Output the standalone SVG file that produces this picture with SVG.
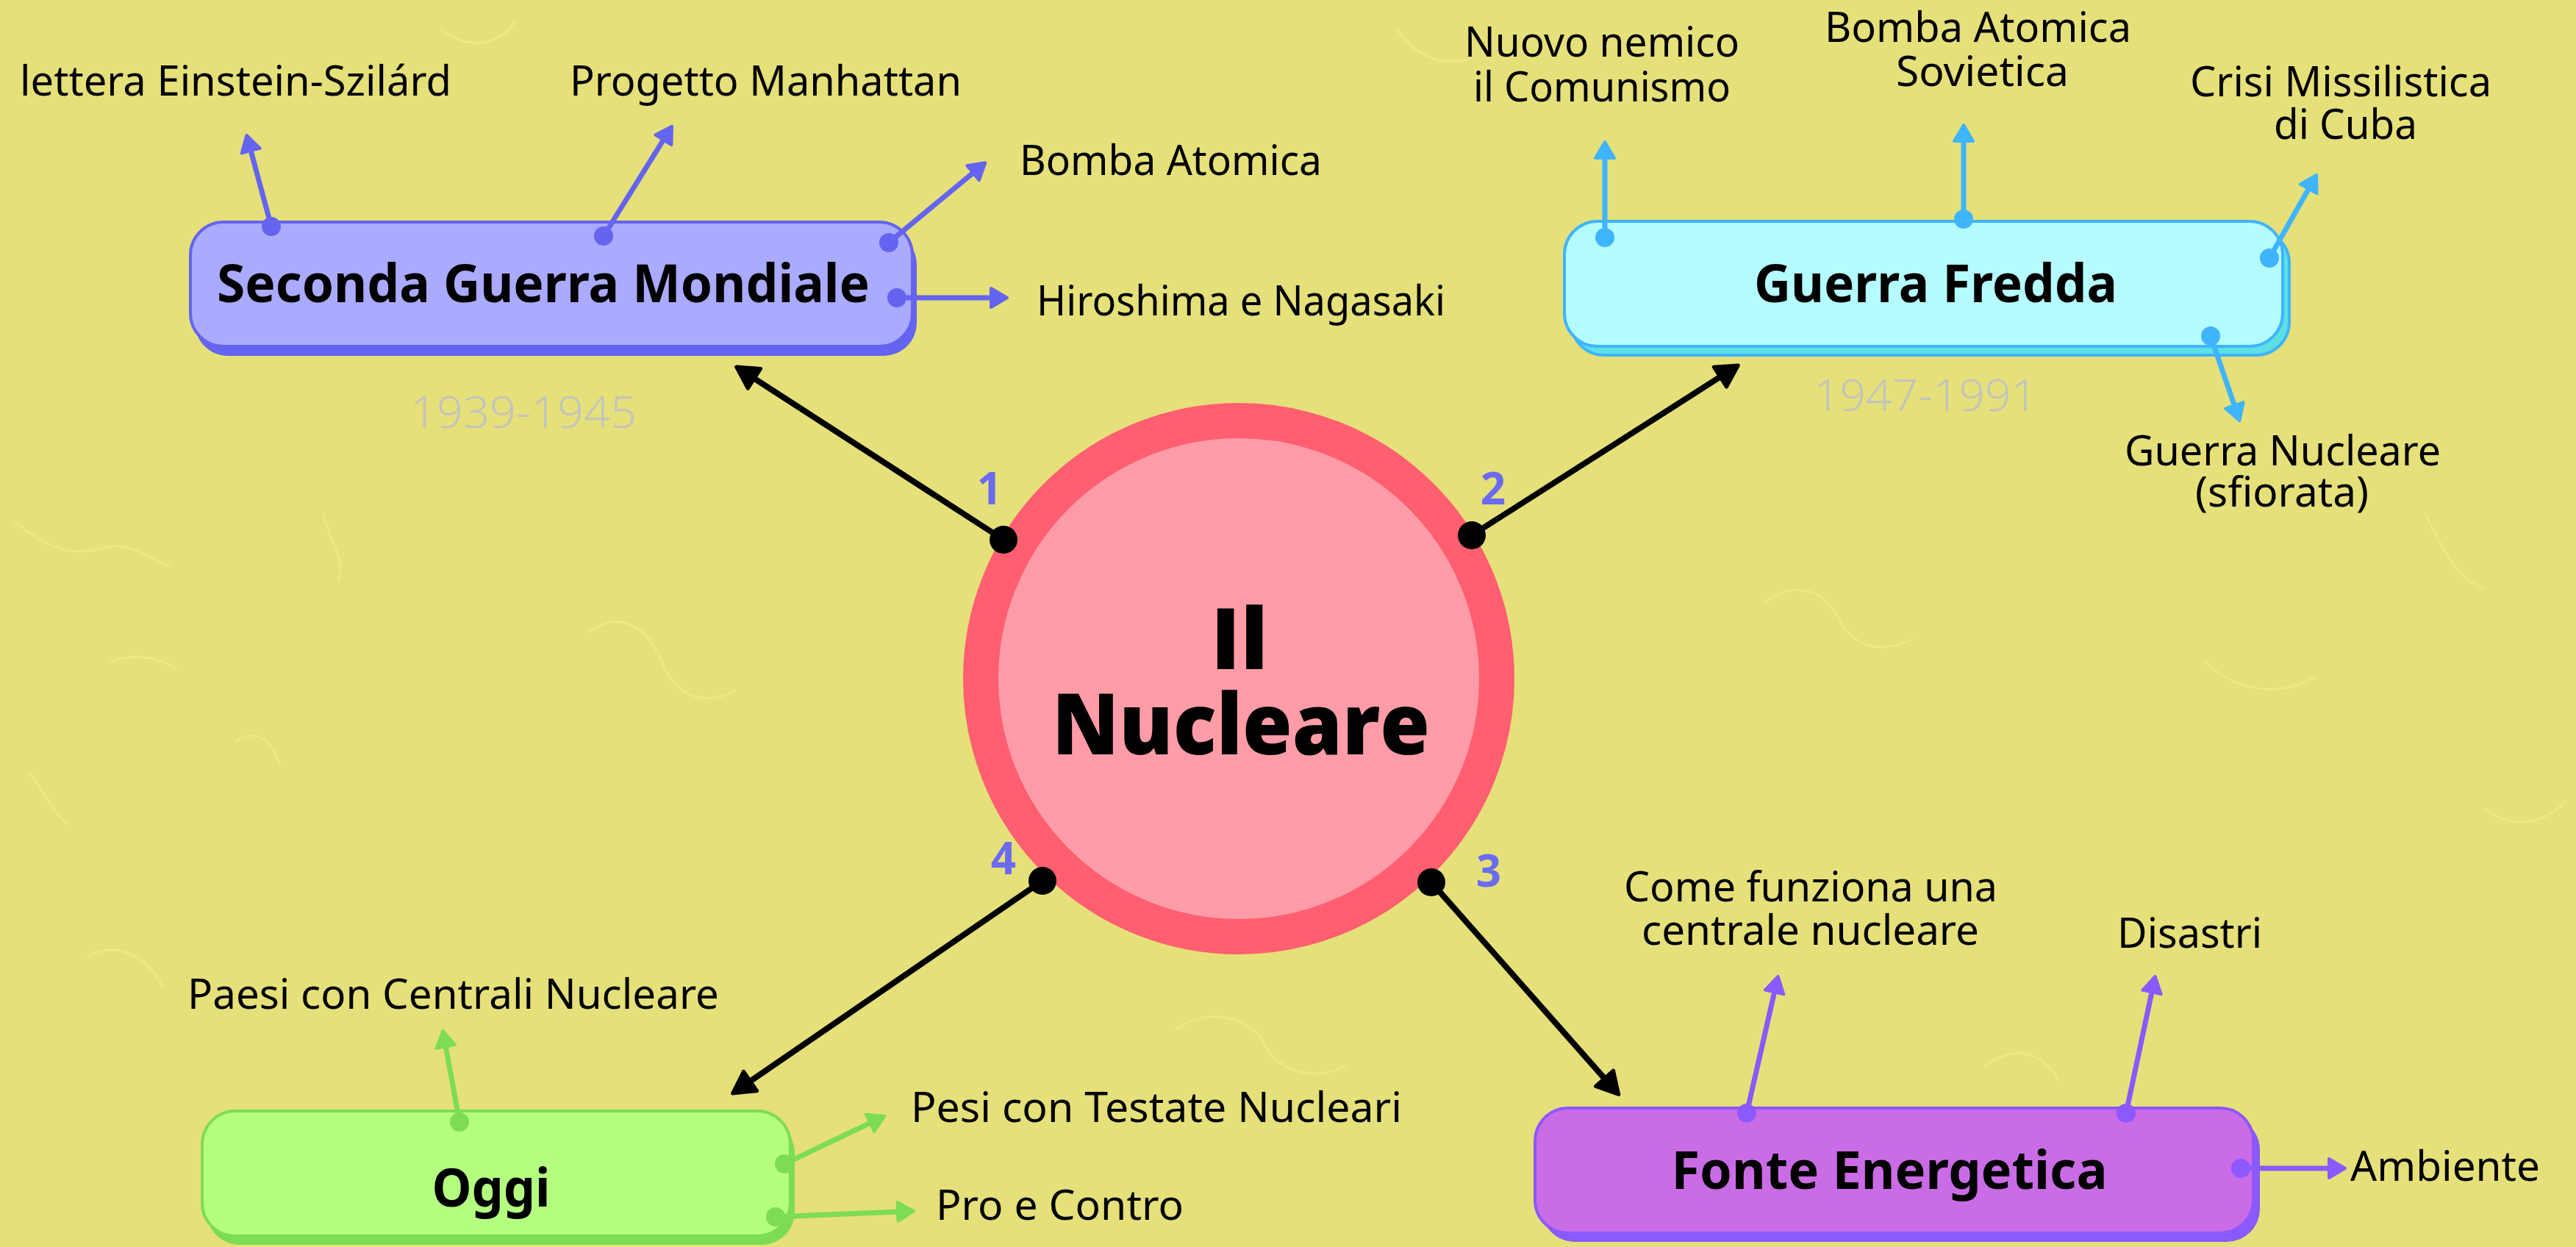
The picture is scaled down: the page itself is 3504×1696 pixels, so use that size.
<svg xmlns="http://www.w3.org/2000/svg" width="3504" height="1696" viewBox="0 0 3504 1696">
<style>
.lbl{font-family:"Noto Sans","Open Sans","DejaVu Sans",sans-serif;font-size:56px;fill:#000}
.node{font-family:"Noto Sans","Open Sans","DejaVu Sans",sans-serif;font-weight:bold;font-size:72px;fill:#000}
.year{font-family:"Noto Sans","Open Sans",sans-serif;font-weight:300;font-size:60px;fill:#c4c4bc}
.num{font-family:"Open Sans","Noto Sans",sans-serif;font-weight:bold;font-size:60px;fill:#6b6bf2}
.title{font-family:"Open Sans","Noto Sans",sans-serif;font-weight:800;font-size:116px;fill:#000}
.tex{fill:none;stroke:#f3ef92;stroke-width:3;opacity:0.55;stroke-linecap:round}
.c1{stroke:#6464f0;stroke-width:7;fill:none}
.c2{stroke:#3fb4ff;stroke-width:7;fill:none}
.c3{stroke:#7ddc55;stroke-width:7;fill:none}
.c4{stroke:#8c58ff;stroke-width:7;fill:none}
.cb{stroke:#000;stroke-width:8;fill:none}
</style>
<defs>
<marker id="m1" markerUnits="userSpaceOnUse" markerWidth="40" markerHeight="40" refX="4" refY="15" orient="auto"><path d="M2,2 L24,15 L2,28 Z" fill="#6464f0" stroke="#6464f0" stroke-width="4" stroke-linejoin="round"/></marker>
<marker id="m2" markerUnits="userSpaceOnUse" markerWidth="40" markerHeight="40" refX="4" refY="15" orient="auto"><path d="M2,2 L24,15 L2,28 Z" fill="#3fb4ff" stroke="#3fb4ff" stroke-width="4" stroke-linejoin="round"/></marker>
<marker id="m3" markerUnits="userSpaceOnUse" markerWidth="40" markerHeight="40" refX="4" refY="15" orient="auto"><path d="M2,2 L24,15 L2,28 Z" fill="#7ddc55" stroke="#7ddc55" stroke-width="4" stroke-linejoin="round"/></marker>
<marker id="m4" markerUnits="userSpaceOnUse" markerWidth="40" markerHeight="40" refX="4" refY="15" orient="auto"><path d="M2,2 L24,15 L2,28 Z" fill="#8c58ff" stroke="#8c58ff" stroke-width="4" stroke-linejoin="round"/></marker>
<marker id="mb" markerUnits="userSpaceOnUse" markerWidth="50" markerHeight="50" refX="6" refY="19" orient="auto"><path d="M3,3 L32,19 L3,35 Z" fill="#000" stroke="#000" stroke-width="5" stroke-linejoin="round"/></marker>
</defs>
<rect width="3504" height="1696" fill="#e5e07a"/>
<g id="texture">
<path class="tex" d="M20,710 C60,740 90,760 140,745 C180,735 200,760 230,770"/>
<path class="tex" d="M440,700 C450,740 470,760 460,790"/>
<path class="tex" d="M320,1010 C340,990 370,1000 380,1040"/>
<path class="tex" d="M40,1050 C60,1080 70,1100 90,1120"/>
<path class="tex" d="M150,900 C180,890 210,890 240,910"/>
<path class="tex" d="M800,860 C840,830 880,850 900,900 C920,950 960,960 1000,940"/>
<path class="tex" d="M2400,820 C2440,790 2480,800 2500,840 C2520,880 2560,890 2600,870"/>
<path class="tex" d="M3000,900 C3040,940 3100,950 3150,920"/>
<path class="tex" d="M3300,700 C3320,740 3340,790 3380,800"/>
<path class="tex" d="M1900,40 C1930,80 1960,90 2000,80"/>
<path class="tex" d="M600,40 C640,70 680,60 700,30"/>
<path class="tex" d="M3380,1100 C3420,1130 3460,1120 3490,1090"/>
<path class="tex" d="M1600,1400 C1640,1370 1700,1380 1720,1420 C1740,1460 1790,1470 1830,1450"/>
<path class="tex" d="M2700,1450 C2740,1420 2780,1430 2800,1470"/>
<path class="tex" d="M120,1300 C160,1280 200,1300 220,1340"/>
</g>
<g id="connectors">
<g id="conn-main">
<line class="cb" x1="1365" y1="734" x2="1023.5" y2="513.2" marker-end="url(#mb)"/>
<line class="cb" x1="2002" y1="728" x2="2342.4" y2="511" marker-end="url(#mb)"/>
<line class="cb" x1="1947" y1="1200" x2="2184.5" y2="1469" marker-end="url(#mb)"/>
<line class="cb" x1="1418" y1="1198" x2="1018.1" y2="1472.2" marker-end="url(#mb)"/>
</g>
</g>
<g id="n-seconda">
<rect x="265" y="315" width="982" height="169" rx="45" fill="#6464f0"/>
<rect x="259" y="302" width="982" height="169" rx="45" fill="#aaaafe" stroke="#6464f0" stroke-width="4"/>
<text class="node" x="739" y="411" text-anchor="middle" textLength="888" lengthAdjust="spacingAndGlyphs">Seconda Guerra Mondiale</text>
</g>
<text class="year" x="558" y="582" textLength="308" lengthAdjust="spacingAndGlyphs">1939-1945</text>
<g id="n-fredda">
<rect x="2137" y="313" width="977" height="170" rx="45" fill="#5ce0e4" stroke="#3fb4ff" stroke-width="4"/>
<rect x="2128" y="301" width="977" height="170" rx="45" fill="#b4fcff" stroke="#3fb4ff" stroke-width="4"/>
<text class="node" x="2633" y="411" text-anchor="middle" textLength="494" lengthAdjust="spacingAndGlyphs">Guerra Fredda</text>
</g>
<text class="year" x="2467" y="559" textLength="304" lengthAdjust="spacingAndGlyphs">1947-1991</text>
<g id="n-oggi">
<rect x="281" y="1523" width="800" height="170" rx="45" fill="#7ddc55"/>
<rect x="275" y="1511" width="800" height="170" rx="45" fill="#b4fe80" stroke="#7ddc55" stroke-width="4"/>
<text class="node" x="668" y="1641" text-anchor="middle" textLength="161" lengthAdjust="spacingAndGlyphs">Oggi</text>
</g>
<g id="n-fonte">
<rect x="2097" y="1519" width="977" height="170" rx="45" fill="#8c58ff"/>
<rect x="2088" y="1507" width="977" height="170" rx="45" fill="#ca6ce6" stroke="#8c58ff" stroke-width="4"/>
<text class="node" x="2570" y="1617" text-anchor="middle" textLength="593" lengthAdjust="spacingAndGlyphs">Fonte Energetica</text>
</g>
<g id="n-center">
<circle cx="1685" cy="923" r="351" fill="#ff9ca7" stroke="#ff5f70" stroke-width="48"/>
<text class="title" text-anchor="middle"><tspan x="1686" y="910">Il</tspan><tspan x="1688" y="1026" textLength="514" lengthAdjust="spacingAndGlyphs">Nucleare</tspan></text>
</g>
<g id="connector-dots">
<circle cx="1365" cy="734" r="19" fill="#000"/>
<circle cx="2002" cy="728" r="19" fill="#000"/>
<circle cx="1947" cy="1200" r="19" fill="#000"/>
<circle cx="1418" cy="1198" r="19" fill="#000"/>
</g>
<g id="conn-sub">
<line class="c1" x1="369" y1="308" x2="340.7" y2="203.2" marker-end="url(#m1)"/>
<line class="c1" x1="821" y1="321" x2="903.4" y2="188.7" marker-end="url(#m1)"/>
<line class="c1" x1="1209" y1="330" x2="1325" y2="234" marker-end="url(#m1)"/>
<line class="c1" x1="1220" y1="405" x2="1350" y2="405" marker-end="url(#m1)"/>
<circle cx="369" cy="308" r="13" fill="#6464f0"/>
<circle cx="821" cy="321" r="13" fill="#6464f0"/>
<circle cx="1209" cy="330" r="13" fill="#6464f0"/>
<circle cx="1220" cy="405" r="13" fill="#6464f0"/>
<line class="c2" x1="2183" y1="323" x2="2183" y2="213" marker-end="url(#m2)"/>
<line class="c2" x1="2671" y1="298" x2="2671" y2="190" marker-end="url(#m2)"/>
<line class="c2" x1="3087" y1="351" x2="3141.2" y2="255.2" marker-end="url(#m2)"/>
<line class="c2" x1="3007" y1="457" x2="3039.9" y2="553.2" marker-end="url(#m2)"/>
<circle cx="2183" cy="323" r="13" fill="#3fb4ff"/>
<circle cx="2671" cy="298" r="13" fill="#3fb4ff"/>
<circle cx="3087" cy="351" r="13" fill="#3fb4ff"/>
<circle cx="3007" cy="457" r="13" fill="#3fb4ff"/>
<line class="c3" x1="625" y1="1526" x2="606" y2="1421.6" marker-end="url(#m3)"/>
<line class="c3" x1="1067" y1="1583" x2="1185.2" y2="1526.5" marker-end="url(#m3)"/>
<line class="c3" x1="1055" y1="1655" x2="1223" y2="1647.9" marker-end="url(#m3)"/>
<circle cx="625" cy="1526" r="13" fill="#7ddc55"/>
<circle cx="1067" cy="1583" r="13" fill="#7ddc55"/>
<circle cx="1055" cy="1655" r="13" fill="#7ddc55"/>
<line class="c4" x1="2376" y1="1514" x2="2414.1" y2="1347.4" marker-end="url(#m4)"/>
<line class="c4" x1="2892" y1="1514" x2="2927.4" y2="1347.5" marker-end="url(#m4)"/>
<line class="c4" x1="3048" y1="1589" x2="3170" y2="1589" marker-end="url(#m4)"/>
<circle cx="2376" cy="1514" r="13" fill="#8c58ff"/>
<circle cx="2892" cy="1514" r="13" fill="#8c58ff"/>
<circle cx="3048" cy="1589" r="13" fill="#8c58ff"/>
</g>
<g id="numbers">
<text class="num" x="1346" y="686" text-anchor="middle">1</text>
<text class="num" x="2031" y="686" text-anchor="middle">2</text>
<text class="num" x="2025" y="1206" text-anchor="middle">3</text>
<text class="num" x="1365" y="1189" text-anchor="middle">4</text>
</g>
<g id="l-einstein"><text class="lbl" x="27" y="130" textLength="587" lengthAdjust="spacingAndGlyphs">lettera Einstein-Szilárd</text></g>
<g id="l-manhattan"><text class="lbl" x="775" y="130" textLength="533" lengthAdjust="spacingAndGlyphs">Progetto Manhattan</text></g>
<g id="l-bomba"><text class="lbl" x="1387" y="238" textLength="411" lengthAdjust="spacingAndGlyphs">Bomba Atomica</text></g>
<g id="l-hiroshima"><text class="lbl" x="1410" y="429" textLength="556" lengthAdjust="spacingAndGlyphs">Hiroshima e Nagasaki</text></g>
<g id="l-nemico"><text class="lbl"><tspan x="1992" y="77" textLength="374" lengthAdjust="spacingAndGlyphs">Nuovo nemico</tspan><tspan x="2004" y="138" textLength="350" lengthAdjust="spacingAndGlyphs">il Comunismo</tspan></text></g>
<g id="l-sovietica"><text class="lbl"><tspan x="2482" y="57" textLength="417" lengthAdjust="spacingAndGlyphs">Bomba Atomica</tspan><tspan x="2579" y="117" textLength="235" lengthAdjust="spacingAndGlyphs">Sovietica</tspan></text></g>
<g id="l-cuba"><text class="lbl"><tspan x="2979" y="131" textLength="410" lengthAdjust="spacingAndGlyphs">Crisi Missilistica</tspan><tspan x="3093" y="189" textLength="195" lengthAdjust="spacingAndGlyphs">di Cuba</tspan></text></g>
<g id="l-guerranucl"><text class="lbl"><tspan x="2890" y="633" textLength="430" lengthAdjust="spacingAndGlyphs">Guerra Nucleare</tspan><tspan x="2986" y="689" textLength="236" lengthAdjust="spacingAndGlyphs">(sfiorata)</tspan></text></g>
<g id="l-paesi"><text class="lbl" x="255" y="1372" textLength="723" lengthAdjust="spacingAndGlyphs">Paesi con Centrali Nucleare</text></g>
<g id="l-pesi"><text class="lbl" x="1239" y="1526" textLength="668" lengthAdjust="spacingAndGlyphs">Pesi con Testate Nucleari</text></g>
<g id="l-pro"><text class="lbl" x="1273" y="1659" textLength="337" lengthAdjust="spacingAndGlyphs">Pro e Contro</text></g>
<g id="l-come"><text class="lbl"><tspan x="2209" y="1226" textLength="508" lengthAdjust="spacingAndGlyphs">Come funziona una</tspan><tspan x="2233" y="1285" textLength="459" lengthAdjust="spacingAndGlyphs">centrale nucleare</tspan></text></g>
<g id="l-disastri"><text class="lbl" x="2880" y="1289" textLength="197" lengthAdjust="spacingAndGlyphs">Disastri</text></g>
<g id="l-ambiente"><text class="lbl" x="3197" y="1606" textLength="258" lengthAdjust="spacingAndGlyphs">Ambiente</text></g>
</svg>
